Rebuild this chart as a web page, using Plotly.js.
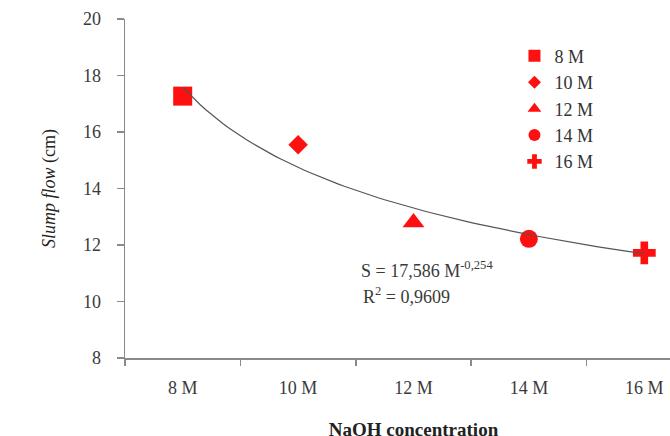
<!DOCTYPE html>
<html>
<head>
<meta charset="utf-8">
<script src="https://cdn.plot.ly/plotly-3.0.1.min.js"></script>
<style>html,body{margin:0;padding:0;overflow:hidden;background:#fff;}</style>
</head>
<body>
<div id="chart"></div>
<script>
// Data
var categories = ["8 M", "10 M", "12 M", "14 M", "16 M"];
var slumpFlow = [17.27, 15.55, 12.8, 12.22, 11.72];
var symbols = ["square", "diamond", "triangle-up", "circle", "cross"];
var markerSizes = [19, 15, 19, 18, 19];
var legendSizes = [12, 10, 12, 12, 12];
// Power trendline printed on the chart: S = a * M^b (M = 1..5)
var fitA = 17.586;
var fitB = -0.254;
var fitLine1 = "S = 17,586 M<sup>-0,254</sup>";
var fitLine2 = "R<sup>2</sup> = 0,9609";

var serif = "Liberation Serif, Times New Roman, serif";
var red = "#ff1010";
var traces = [];

// trend curve on a numeric overlay axis aligned with category indices
var fitX = [], fitY = [];
for (var k = 0; k <= 80; k++) {
  var m = 1 + 4 * k / 80;
  fitX.push(m - 1);
  fitY.push(fitA * Math.pow(m, fitB));
}
traces.push({
  type: "scatter", mode: "lines", x: fitX, y: fitY, xaxis: "x2",
  line: {color: "#555", width: 1.2}, showlegend: false, hoverinfo: "skip"
});

categories.forEach(function (c, i) {
  traces.push({
    type: "scatter", mode: "markers", name: c,
    x: [c], y: [slumpFlow[i]], showlegend: false,
    marker: {symbol: symbols[i], size: markerSizes[i], color: red},
    hoverinfo: "skip"
  });
});
// legend entries (smaller symbols, as in the reference legend)
categories.forEach(function (c, i) {
  traces.push({
    type: "scatter", mode: "markers", name: c,
    x: [null], y: [null], legendgroup: "g" + i,
    marker: {symbol: symbols[i], size: legendSizes[i], color: red},
    hoverinfo: "skip"
  });
});

var layout = {
  width: 705, height: 446,
  margin: {l: 125, r: 3, t: 19, b: 88},
  paper_bgcolor: "#fff", plot_bgcolor: "#fff",
  font: {family: serif, size: 18, color: "#3a3a3a"},
  showlegend: true,
  legend: {
    x: 0.675, y: 0.945, xanchor: "left", yanchor: "top",
    font: {family: serif, size: 18, color: "#333"},
    traceorder: "grouped", tracegroupgap: 0,
    bgcolor: "rgba(0,0,0,0)"
  },
  xaxis: {
    type: "category", categoryorder: "array", categoryarray: categories,
    range: [-0.5, 4.5], tickson: "boundaries",
    showline: true, linecolor: "#8a8a8a", linewidth: 1.5,
    ticks: "outside", ticklen: 6, tickcolor: "#8a8a8a", tickwidth: 1.5,
    showgrid: false, zeroline: false,
    tickfont: {family: serif, size: 18, color: "#3a3a3a"},
    ticklabelstandoff: 13,
    title: {text: "<b>NaOH concentration</b>", font: {family: serif, size: 19, color: "#222"}, standoff: 25}
  },
  xaxis2: {
    overlaying: "x", range: [-0.5, 4.5], visible: false
  },
  yaxis: {
    range: [8, 20], dtick: 2,
    showline: true, linecolor: "#8a8a8a", linewidth: 1.5,
    ticks: "outside", ticklen: 7, tickcolor: "#8a8a8a", tickwidth: 1.5,
    showgrid: false, zeroline: false,
    tickfont: {family: serif, size: 18, color: "#3a3a3a"},
    ticklabelstandoff: 12,
    title: {text: "<i>Slump flow</i> (cm)", font: {family: serif, size: 18, color: "#222"}, standoff: 22}
  },
  annotations: [
    {xref: "x2", yref: "y", x: 2.12, y: 11.15, text: fitLine1, showarrow: false,
     font: {family: serif, size: 18, color: "#3a3a3a"}},
    {xref: "x2", yref: "y", x: 1.94, y: 10.2, text: fitLine2, showarrow: false,
     font: {family: serif, size: 18, color: "#3a3a3a"}}
  ]
};

Plotly.newPlot("chart", traces, layout, {staticPlot: true, displayModeBar: false});
</script>
</body>
</html>
